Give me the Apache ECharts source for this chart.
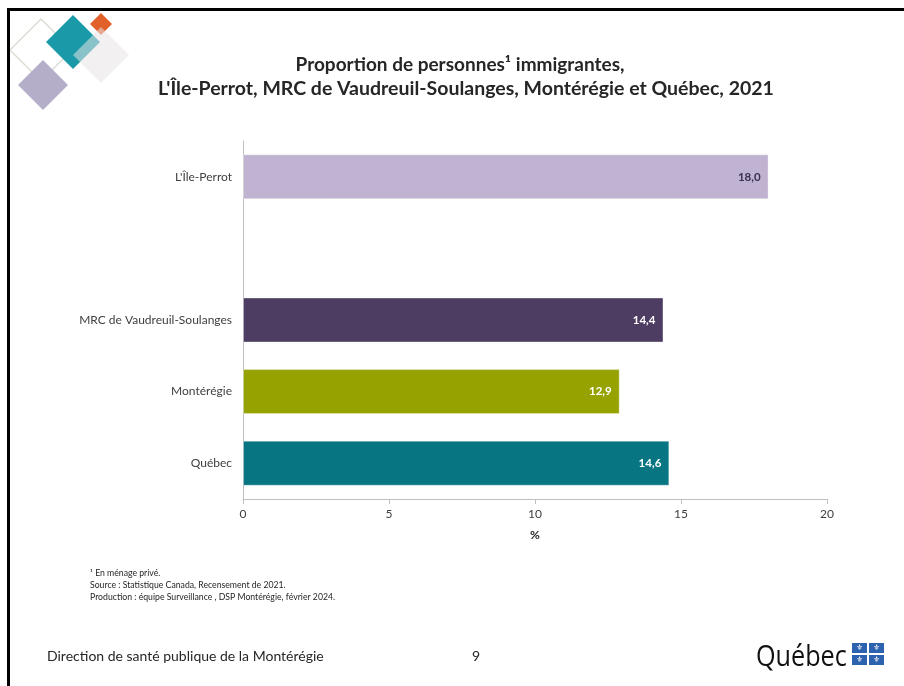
<!DOCTYPE html>
<html><head><meta charset="utf-8">
<script src="https://cdn.jsdelivr.net/npm/echarts@6/dist/echarts.min.js"></script>
<style>html,body{margin:0;padding:0;background:#fff}#c{width:904px;height:686px}</style>
</head><body><div id="c"></div>
<script>
const categories = ["L'Île-Perrot", "", "MRC de Vaudreuil-Soulanges", "Montérégie", "Québec"];
const values = [18.0, null, 14.4, 12.9, 14.6];
const barColors = ["#C0B3D1", "#ffffff", "#4E3D62", "#95A200", "#077582"];
const labelColors = ["#3B3050", "#fff", "#fff", "#fff", "#fff"];
const xTicks = [0, 5, 10, 15, 20];
const titleLine1 = "Proportion de personnes¹ immigrantes,";
const titleLine2 = "L'Île-Perrot, MRC de Vaudreuil-Soulanges, Montérégie et Québec, 2021";
const notes = ["¹ En ménage privé.", "Source : Statistique Canada, Recensement de 2021.", "Production : équipe Surveillance , DSP Montérégie, février 2024."];

const FONT = "Lato, 'Open Sans', sans-serif";
const chart = echarts.init(document.getElementById('c'));
function diamond(cx, cy, h) { return [[cx, cy - h], [cx + h, cy], [cx, cy + h], [cx - h, cy]]; }
const flag = [];
[[852, 643], [869, 643], [852, 655], [869, 655]].forEach(([x, y]) => {
  flag.push({ type: 'rect', shape: { x: x, y: y, width: 15, height: 10 }, style: { fill: '#2C62AE' } });
  flag.push({ type: 'text', style: { text: '⚜', x: x + 7.5, y: y + 5, align: 'center', verticalAlign: 'middle', font: "8px 'DejaVu Sans'", fill: '#fff' } });
});

chart.setOption({
  animation: false,
  grid: { left: 243, right: 77, top: 141, bottom: 187 },
  xAxis: {
    type: 'value', min: xTicks[0], max: xTicks[xTicks.length - 1], interval: 5,
    axisLine: { show: true, lineStyle: { color: '#BFBFBF', width: 1 } },
    axisTick: { show: true, length: 5, lineStyle: { color: '#BFBFBF' } },
    splitLine: { show: false },
    axisLabel: { color: '#404040', fontSize: 12, fontFamily: FONT, margin: 9 },
    name: '%', nameLocation: 'middle', nameGap: 30,
    nameTextStyle: { color: '#262626', fontSize: 12, fontWeight: 'bold', fontFamily: FONT }
  },
  yAxis: {
    type: 'category', data: categories, inverse: true,
    axisLine: { show: true, lineStyle: { color: '#BFBFBF', width: 1 } },
    axisTick: { show: false },
    axisLabel: { color: '#404040', fontSize: 12, fontFamily: FONT, margin: 11 }
  },
  series: [{
    type: 'bar', barWidth: 45,
    data: values.map((v, i) => ({
      value: v,
      itemStyle: { color: barColors[i], borderColor: 'rgba(255,255,255,0.35)', borderWidth: 1 },
      label: { color: labelColors[i] }
    })),
    label: {
      show: true, position: 'insideRight', distance: 8, fontSize: 11.5, fontWeight: 'bold', fontFamily: FONT,
      formatter: p => p.value == null ? '' : p.value.toFixed(1).replace('.', ',')
    }
  }],
  graphic: [
    { type: 'polygon', shape: { points: diamond(41, 50, 31) }, style: { fill: 'none', stroke: '#DADFD3', lineWidth: 1.5 } },
    { type: 'polygon', shape: { points: diamond(43, 85, 25) }, style: { fill: '#B5AEC9' } },
    { type: 'polygon', shape: { points: diamond(73, 42, 27) }, style: { fill: '#1A9AA8' } },
    { type: 'polygon', shape: { points: diamond(101, 24, 11) }, style: { fill: '#E2602A' } },
    { type: 'polygon', shape: { points: diamond(101, 55, 28) }, style: { fill: 'rgba(232,228,228,0.55)' } },
    // slide border
    { type: 'line', shape: { x1: 7, y1: 9.5, x2: 904, y2: 9.5 }, style: { stroke: '#000', lineWidth: 3 } },
    { type: 'line', shape: { x1: 8.5, y1: 8, x2: 8.5, y2: 686 }, style: { stroke: '#000', lineWidth: 3 } },
    // title
    { type: 'text', style: { text: titleLine1, x: 460, y: 65, align: 'center', verticalAlign: 'middle', font: "bold 19px " + FONT, fill: '#262626' } },
    { type: 'text', style: { text: titleLine2, x: 466, y: 89, align: 'center', verticalAlign: 'middle', font: "bold 19.5px " + FONT, fill: '#262626' } },
    // notes
    { type: 'text', style: { text: notes.join('\n'), x: 90, y: 567, lineHeight: 12, font: "8.7px " + FONT, fill: '#262626' } },
    // footer
    { type: 'text', style: { text: 'Direction de santé publique de la Montérégie', x: 47, y: 656, verticalAlign: 'middle', font: "14px " + FONT, fill: '#262626' } },
    { type: 'text', style: { text: '9', x: 476, y: 656, align: 'center', verticalAlign: 'middle', font: "14px " + FONT, fill: '#262626' } },
    // Québec logo
    { type: 'text', x: 756, y: 657, scaleX: 0.84, style: { text: 'Québec', x: 0, y: 0, verticalAlign: 'middle', font: "30px 'Open Sans', sans-serif", fill: '#111' } }
  ].concat(flag)
});
</script></body></html>
